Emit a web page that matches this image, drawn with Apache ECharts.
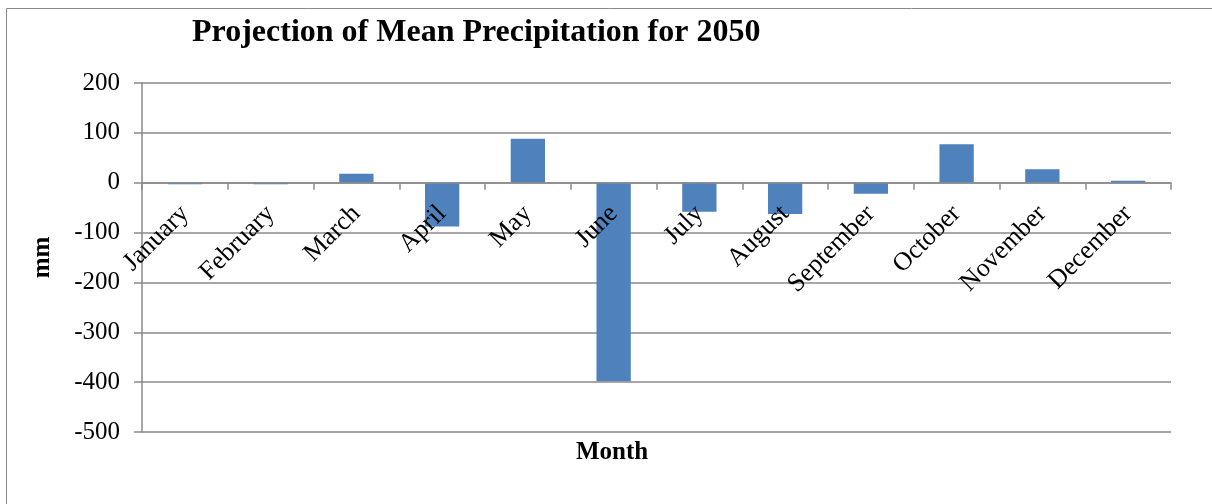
<!DOCTYPE html>
<html>
<head>
<meta charset="utf-8">
<script src="https://cdn.jsdelivr.net/npm/echarts@6/dist/echarts.min.js"></script>
<style>
  html, body { margin: 0; padding: 0; background: #fff; }
  #chart { width: 1212px; height: 504px; }
</style>
</head>
<body>
<div id="chart"></div>
<script>
// Monthly change in mean precipitation (mm) projected for 2050
const months = ['January', 'February', 'March', 'April', 'May', 'June',
  'July', 'August', 'September', 'October', 'November', 'December'];
const precipChange = [-3, -3, 18, -88, 88, -398, -58, -63, -22, 77, 27, 4];
const yTicks = { min: -500, max: 200, interval: 100 };

const serif = '"Liberation Serif", "Times New Roman", serif';
const gridGray = '#8a8a8a';

const W = 1212, H = 504;
const grid = { left: 142, top: 83, right: 41, bottom: 72 };
// Lift the category axis from the plot bottom up to the zero line
const plotH = H - grid.top - grid.bottom;
const zeroLift = plotH * (0 - yTicks.min) / (yTicks.max - yTicks.min);

const chart = echarts.init(document.getElementById('chart'));
chart.setOption({
  backgroundColor: '#ffffff',
  animation: false,
  title: {
    text: 'Projection of Mean Precipitation for 2050',
    left: 187,
    top: 12,
    textStyle: { fontFamily: serif, fontWeight: 'bold', fontSize: 32, color: '#000' }
  },
  graphic: [
    {
      type: 'rect',
      shape: { x: 6.5, y: 8.5, width: 1220, height: 520 },
      style: { fill: 'none', stroke: '#8a8a8a', lineWidth: 1 },
      silent: true,
      z: -1
    },
    {
      type: 'text',
      left: 576,
      top: 440,
      style: { text: 'Month', font: 'bold 25px ' + serif, fill: '#000' }
    }
  ],
  grid: Object.assign({ containLabel: false, outerBoundsMode: 'none' }, grid),
  xAxis: {
    type: 'category',
    data: months,
    position: 'bottom',
    offset: -zeroLift,
    z: 10,
    axisLine: { onZero: false, lineStyle: { color: gridGray, width: 1.5 } },
    axisTick: { show: true, alignWithLabel: false, length: 7, lineStyle: { color: gridGray, width: 1.5 } },
    axisLabel: {
      rotate: 45,
      interval: 0,
      margin: 27,
      fontFamily: serif,
      fontSize: 26,
      color: '#000'
    },
    splitLine: { show: false }
  },
  yAxis: {
    type: 'value',
    min: yTicks.min,
    max: yTicks.max,
    interval: yTicks.interval,
    name: 'mm',
    nameLocation: 'middle',
    nameRotate: 90,
    nameGap: 87,
    nameTextStyle: { fontFamily: serif, fontWeight: 'bold', fontSize: 25, color: '#000' },
    axisLine: { show: true, lineStyle: { color: gridGray, width: 1.5 } },
    axisTick: { show: true, length: 8, lineStyle: { color: gridGray, width: 1.5 } },
    axisLabel: { margin: 22, fontFamily: serif, fontSize: 25, color: '#000' },
    splitLine: { show: true, lineStyle: { color: gridGray, width: 1.5 } }
  },
  series: [{
    type: 'bar',
    data: precipChange,
    barWidth: '40%',
    itemStyle: { color: '#4f81bd' }
  }]
});
</script>
</body>
</html>
